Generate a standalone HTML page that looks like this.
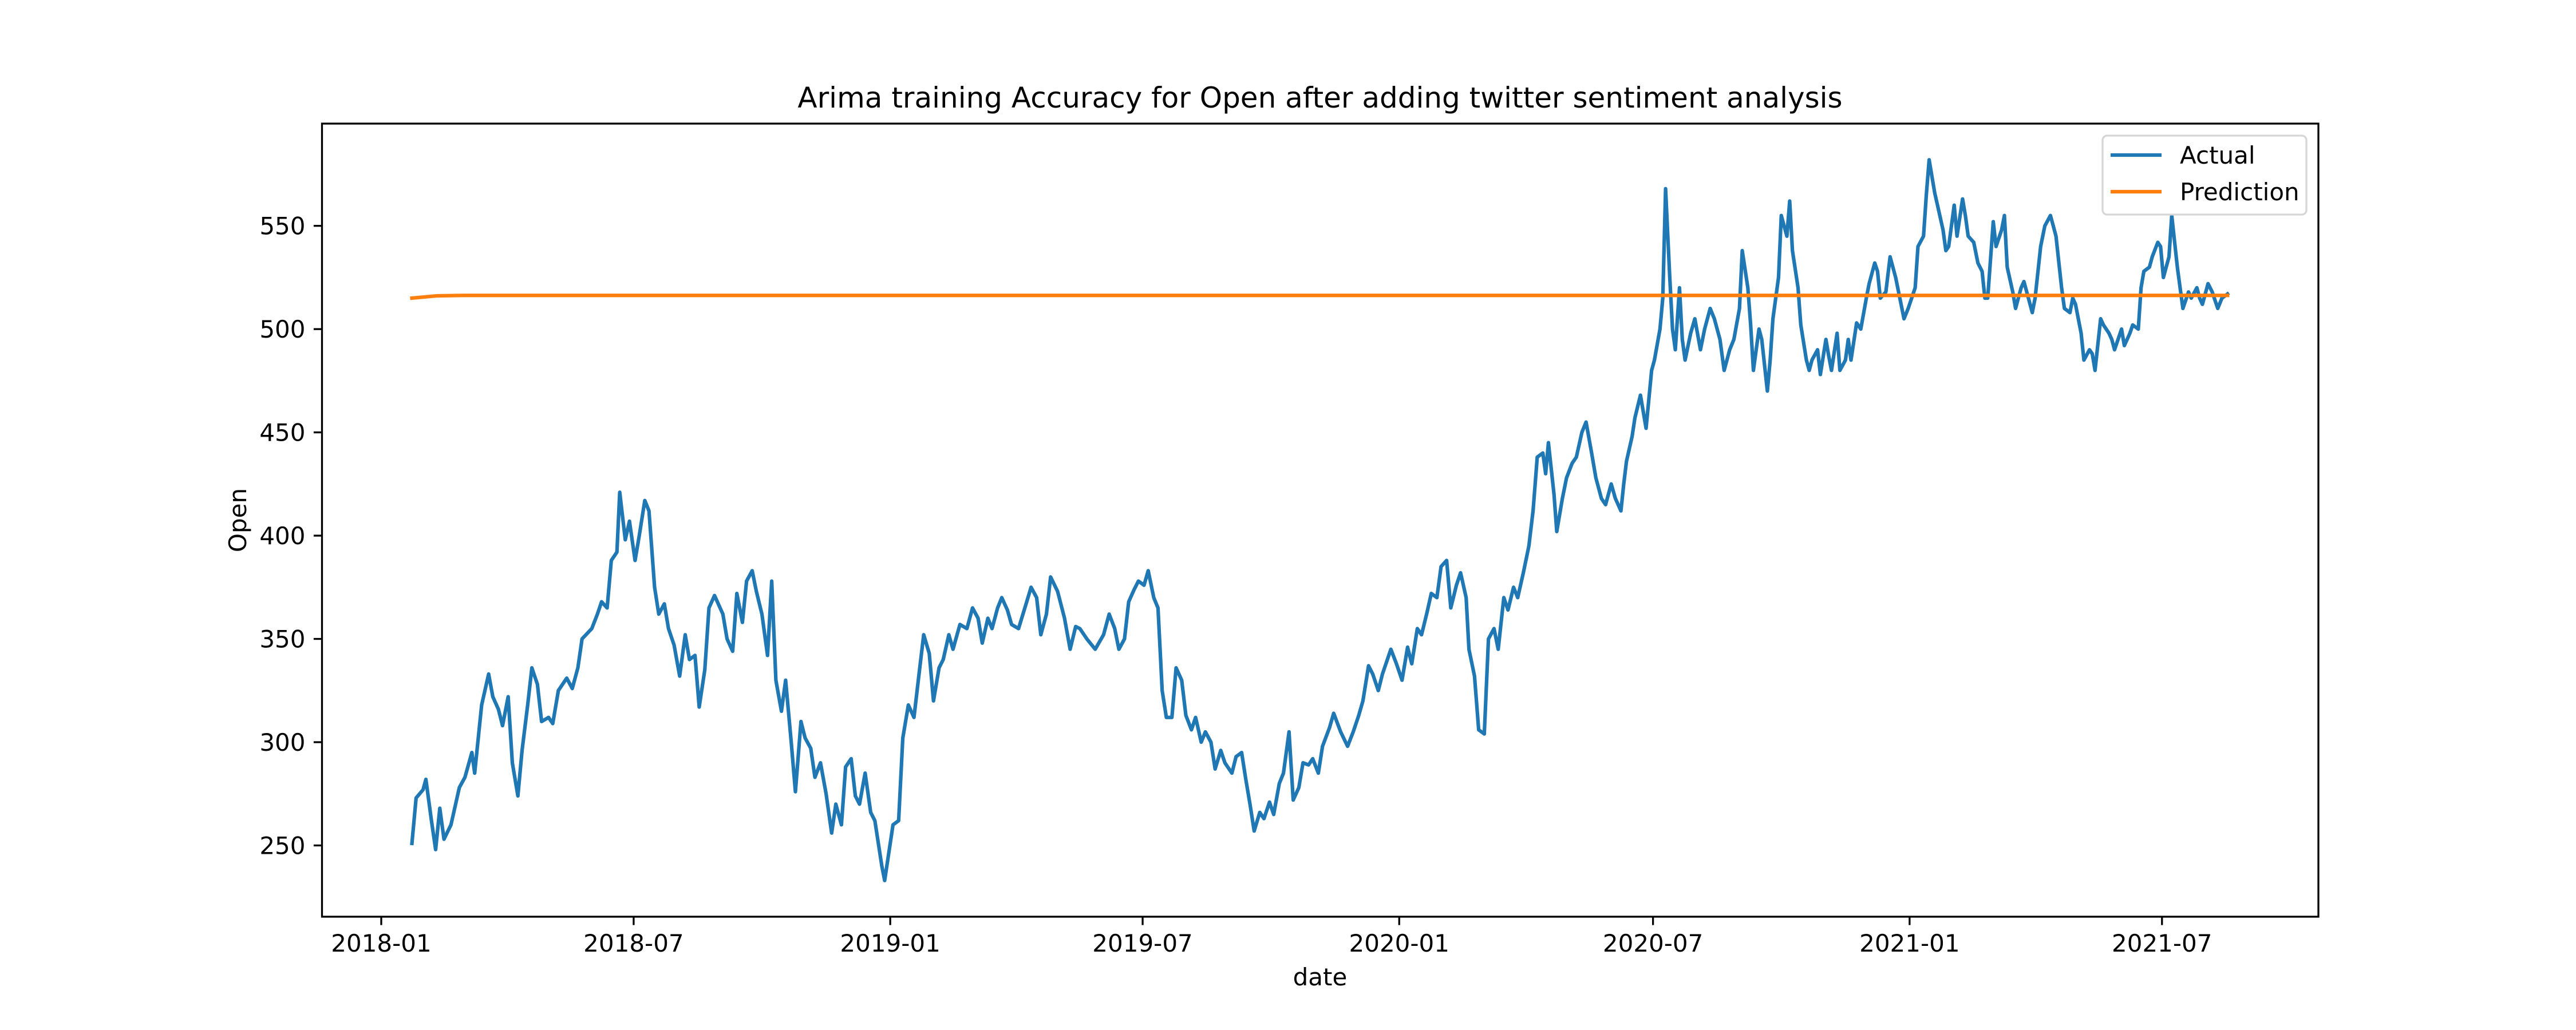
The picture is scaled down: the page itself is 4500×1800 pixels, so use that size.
<!DOCTYPE html>
<html><head><meta charset="utf-8"><style>
html,body{margin:0;padding:0;background:#fff;}
svg{display:block;font-family:"DejaVu Sans","Liberation Sans",sans-serif;}
</style></head><body>
<svg id="chart" width="4500" height="1800" viewBox="0 0 4500 1800" xmlns="http://www.w3.org/2000/svg">
<rect width="4500" height="1800" fill="#fff"/>
<text x="2306" y="188" font-size="50" text-anchor="middle">Arima training Accuracy for Open after adding twitter sentiment analysis</text>
<g id="plot"></g>
<rect x="562.5" y="216" width="3487.5" height="1386" fill="none" stroke="#000" stroke-width="3.3"/>
<text x="2306" y="1722" font-size="42" text-anchor="middle">date</text>
<text x="0" y="0" font-size="42" text-anchor="middle" transform="translate(430,909) rotate(-90)">Open</text>
<g>
<rect x="3673" y="237" width="356" height="138" rx="8" fill="#fff" fill-opacity="0.8" stroke="#d6d6d6" stroke-width="3.3"/>
<line x1="3687" y1="271" x2="3776" y2="271" stroke="#1f77b4" stroke-width="6.25"/>
<text x="3808" y="286" font-size="42">Actual</text>
<line x1="3687" y1="335" x2="3776" y2="335" stroke="#ff7f0e" stroke-width="6.25"/>
<text x="3808" y="350" font-size="42">Prediction</text>
</g>
</svg>
<script>
const xTickLabels = ["2018-01","2018-07","2019-01","2019-07","2020-01","2020-07","2021-01","2021-07"];
const yTickValues = [250,300,350,400,450,500,550];
const actualDates = ["2018-01-23","2018-01-26","2018-01-31","2018-02-02","2018-02-06","2018-02-09","2018-02-12","2018-02-15","2018-02-20","2018-02-26","2018-03-02","2018-03-07","2018-03-09","2018-03-14","2018-03-19","2018-03-22","2018-03-26","2018-03-29","2018-04-02","2018-04-05","2018-04-09","2018-04-12","2018-04-16","2018-04-19","2018-04-23","2018-04-26","2018-05-01","2018-05-04","2018-05-08","2018-05-14","2018-05-18","2018-05-22","2018-05-25","2018-06-01","2018-06-05","2018-06-08","2018-06-12","2018-06-15","2018-06-19","2018-06-21","2018-06-25","2018-06-28","2018-07-02","2018-07-05","2018-07-09","2018-07-12","2018-07-16","2018-07-19","2018-07-23","2018-07-26","2018-07-30","2018-08-03","2018-08-07","2018-08-10","2018-08-14","2018-08-17","2018-08-21","2018-08-24","2018-08-28","2018-09-03","2018-09-06","2018-09-10","2018-09-13","2018-09-17","2018-09-20","2018-09-24","2018-09-27","2018-10-01","2018-10-05","2018-10-08","2018-10-11","2018-10-15","2018-10-18","2018-10-22","2018-10-25","2018-10-29","2018-11-01","2018-11-05","2018-11-08","2018-11-12","2018-11-16","2018-11-20","2018-11-23","2018-11-27","2018-11-30","2018-12-04","2018-12-07","2018-12-10","2018-12-14","2018-12-18","2018-12-21","2018-12-26","2018-12-28","2019-01-03","2019-01-07","2019-01-10","2019-01-14","2019-01-18","2019-01-22","2019-01-25","2019-01-29","2019-02-01","2019-02-05","2019-02-08","2019-02-12","2019-02-15","2019-02-20","2019-02-25","2019-03-01","2019-03-05","2019-03-08","2019-03-12","2019-03-15","2019-03-19","2019-03-22","2019-03-26","2019-03-29","2019-04-03","2019-04-08","2019-04-12","2019-04-16","2019-04-19","2019-04-23","2019-04-26","2019-05-01","2019-05-06","2019-05-10","2019-05-14","2019-05-17","2019-05-22","2019-05-28","2019-06-03","2019-06-07","2019-06-11","2019-06-14","2019-06-18","2019-06-21","2019-06-25","2019-06-28","2019-07-02","2019-07-05","2019-07-09","2019-07-12","2019-07-15","2019-07-18","2019-07-22","2019-07-25","2019-07-29","2019-08-01","2019-08-05","2019-08-08","2019-08-12","2019-08-15","2019-08-19","2019-08-22","2019-08-26","2019-08-29","2019-09-03","2019-09-06","2019-09-10","2019-09-13","2019-09-16","2019-09-19","2019-09-23","2019-09-26","2019-09-30","2019-10-03","2019-10-07","2019-10-10","2019-10-14","2019-10-17","2019-10-21","2019-10-24","2019-10-28","2019-10-31","2019-11-04","2019-11-07","2019-11-12","2019-11-15","2019-11-20","2019-11-25","2019-11-29","2019-12-03","2019-12-06","2019-12-10","2019-12-13","2019-12-17","2019-12-20","2019-12-26","2019-12-30","2020-01-03","2020-01-07","2020-01-10","2020-01-14","2020-01-17","2020-01-21","2020-01-24","2020-01-28","2020-01-31","2020-02-04","2020-02-07","2020-02-11","2020-02-14","2020-02-18","2020-02-20","2020-02-24","2020-02-27","2020-03-02","2020-03-05","2020-03-09","2020-03-12","2020-03-16","2020-03-19","2020-03-23","2020-03-26","2020-03-30","2020-04-03","2020-04-06","2020-04-09","2020-04-13","2020-04-15","2020-04-17","2020-04-21","2020-04-23","2020-04-27","2020-04-30","2020-05-04","2020-05-07","2020-05-11","2020-05-14","2020-05-18","2020-05-21","2020-05-25","2020-05-28","2020-06-01","2020-06-04","2020-06-08","2020-06-10","2020-06-12","2020-06-16","2020-06-18","2020-06-22","2020-06-24","2020-06-26","2020-06-30","2020-07-02","2020-07-06","2020-07-08","2020-07-10","2020-07-13","2020-07-15","2020-07-17","2020-07-20","2020-07-22","2020-07-24","2020-07-28","2020-07-31","2020-08-04","2020-08-07","2020-08-11","2020-08-14","2020-08-18","2020-08-21","2020-08-25","2020-08-28","2020-09-01","2020-09-03","2020-09-07","2020-09-09","2020-09-11","2020-09-15","2020-09-17","2020-09-21","2020-09-23","2020-09-25","2020-09-29","2020-10-01","2020-10-05","2020-10-07","2020-10-09","2020-10-13","2020-10-15","2020-10-19","2020-10-21","2020-10-23","2020-10-27","2020-10-29","2020-11-02","2020-11-04","2020-11-06","2020-11-10","2020-11-12","2020-11-16","2020-11-18","2020-11-20","2020-11-24","2020-11-27","2020-12-01","2020-12-03","2020-12-07","2020-12-09","2020-12-11","2020-12-15","2020-12-18","2020-12-22","2020-12-28","2020-12-31","2021-01-05","2021-01-07","2021-01-11","2021-01-13","2021-01-15","2021-01-19","2021-01-21","2021-01-25","2021-01-27","2021-01-29","2021-02-02","2021-02-04","2021-02-08","2021-02-10","2021-02-12","2021-02-16","2021-02-19","2021-02-22","2021-02-24","2021-02-26","2021-03-02","2021-03-04","2021-03-08","2021-03-10","2021-03-12","2021-03-16","2021-03-18","2021-03-22","2021-03-24","2021-03-26","2021-03-30","2021-04-01","2021-04-05","2021-04-08","2021-04-12","2021-04-14","2021-04-16","2021-04-20","2021-04-22","2021-04-26","2021-04-28","2021-04-30","2021-05-04","2021-05-06","2021-05-10","2021-05-12","2021-05-14","2021-05-18","2021-05-20","2021-05-24","2021-05-26","2021-05-28","2021-06-02","2021-06-04","2021-06-08","2021-06-10","2021-06-14","2021-06-16","2021-06-18","2021-06-22","2021-06-24","2021-06-28","2021-06-30","2021-07-02","2021-07-06","2021-07-08","2021-07-12","2021-07-14","2021-07-16","2021-07-20","2021-07-22","2021-07-26","2021-07-28","2021-07-30","2021-08-03","2021-08-06","2021-08-10","2021-08-13","2021-08-17"];
const actualValues = [251,273,277,282,262,248,268,253,260,278,283,295,285,318,333,322,316,308,322,290,274,296,318,336,328,310,312,309,325,331,326,336,350,355,362,368,365,388,392,421,398,407,388,400,417,412,375,362,367,355,347,332,352,340,342,317,335,365,371,362,350,344,372,358,378,383,373,362,342,378,330,315,330,300,276,310,302,297,283,290,275,256,270,260,288,292,274,270,285,266,262,240,233,260,262,302,318,312,335,352,343,320,336,340,352,345,357,355,365,360,348,360,355,365,370,364,357,355,366,375,370,352,362,380,373,360,345,356,355,350,345,352,362,355,345,350,368,374,378,376,383,370,365,325,312,312,336,330,313,306,312,300,305,300,287,296,290,285,293,295,282,270,257,266,263,271,265,280,285,305,272,278,290,289,292,285,298,307,314,305,298,305,313,320,337,333,325,333,345,338,330,346,338,355,352,363,372,370,385,388,365,376,382,370,345,332,306,304,350,355,345,370,364,375,370,382,395,412,438,440,430,445,420,402,418,428,435,438,450,455,440,428,418,415,425,418,412,425,436,448,457,468,460,452,480,485,500,515,568,525,500,490,520,495,485,498,505,490,500,510,505,495,480,490,495,510,538,520,502,480,500,495,470,485,505,525,555,545,562,538,520,502,485,480,485,490,478,495,487,480,498,480,485,495,485,503,500,515,522,532,528,515,518,535,525,505,510,520,540,545,565,582,566,560,548,538,540,560,545,563,555,545,542,532,528,515,515,552,540,548,555,530,518,510,520,523,518,508,515,540,550,555,550,545,520,510,508,515,512,498,485,490,488,480,505,502,498,495,490,500,492,498,502,500,520,528,530,535,542,540,525,535,555,530,520,510,518,515,520,515,512,522,518,510,515,517];
const predDates = ["2018-01-23","2018-02-10","2018-03-01","2021-08-17"];
const predValues = [515,516.1,516.3,516.3];

const NS = "http://www.w3.org/2000/svg";
const L = 562.5, R = 4050, T = 216, B = 1602;
const yMin = 215.5, yMax = 599.5;
const day0 = Date.UTC(2018,0,1), pxPerDay = 2.436, x0 = 666;
function xScale(d){ const p=d.split("-").map(Number); const t=Date.UTC(p[0],p[1]-1,p[2]||1); return x0 + (t-day0)/86400000*pxPerDay; }
function yScale(v){ return B - (v-yMin)/(yMax-yMin)*(B-T); }
const svg = document.getElementById("chart");
const plot = document.getElementById("plot");

xTickLabels.forEach(function(lab){
  const x = xScale(lab + "-01");
  const tk = document.createElementNS(NS,"line");
  tk.setAttribute("x1",x); tk.setAttribute("x2",x); tk.setAttribute("y1",B); tk.setAttribute("y2",B+14.6);
  tk.setAttribute("stroke","#000"); tk.setAttribute("stroke-width","3.3");
  
  
  svg.appendChild(tk);
  const tx = document.createElementNS(NS,"text");
  tx.setAttribute("x",x); tx.setAttribute("y",B+61); tx.setAttribute("font-size","42"); tx.setAttribute("text-anchor","middle");
  tx.textContent = lab;
  
  
  svg.appendChild(tx);
});
yTickValues.forEach(function(v){
  const y = yScale(v);
  const tk = document.createElementNS(NS,"line");
  tk.setAttribute("x1",L-14.6); tk.setAttribute("x2",L); tk.setAttribute("y1",y); tk.setAttribute("y2",y);
  tk.setAttribute("stroke","#000"); tk.setAttribute("stroke-width","3.3");
  
  
  svg.appendChild(tk);
  const tx = document.createElementNS(NS,"text");
  tx.setAttribute("x",L-29); tx.setAttribute("y",y+15); tx.setAttribute("font-size","42"); tx.setAttribute("text-anchor","end");
  tx.textContent = String(v);
  
  
  svg.appendChild(tx);
});
function line(dates, vals, color, name){
  const p = document.createElementNS(NS,"polyline");
  p.setAttribute("points", dates.map(function(d,i){return xScale(d).toFixed(1)+","+yScale(vals[i]).toFixed(1);}).join(" "));
  p.setAttribute("fill","none"); p.setAttribute("stroke",color); p.setAttribute("stroke-width","6.25");
  p.setAttribute("stroke-linejoin","round"); p.setAttribute("stroke-linecap","square");
  
  
  plot.appendChild(p);
}
line(actualDates, actualValues, "#1f77b4", "actual-line");
line(predDates, predValues, "#ff7f0e", "prediction-line");
</script>
</body></html>
